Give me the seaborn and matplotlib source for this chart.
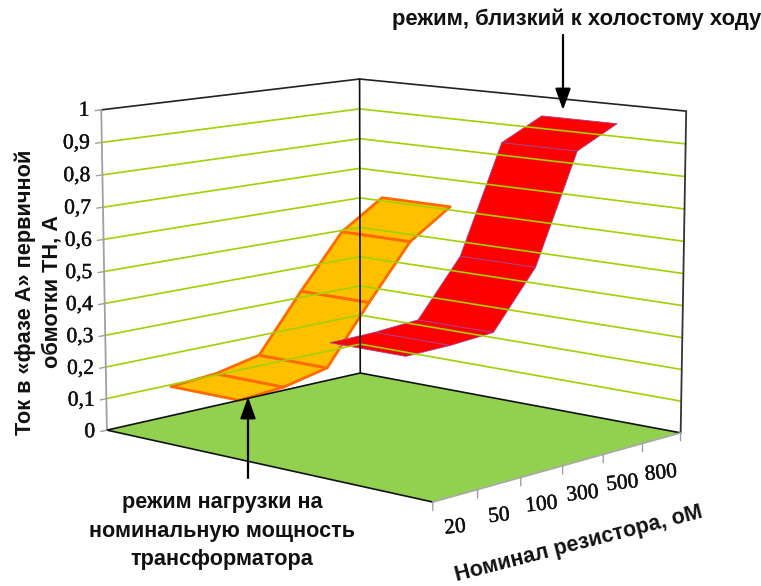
import numpy as np
import pandas as pd
import matplotlib
matplotlib.use("Agg")
import matplotlib.pyplot as plt
import matplotlib.patheffects as pe
import seaborn as sns

# Resistor ratings and the primary phase-A current measured for each one
resistors = ["20", "50", "100", "300", "500", "800"]
current_load = [0.15, 0.16, 0.19, 0.37, 0.54, 0.63]
current_idle = [0.377, 0.38, 0.39, 0.56, 0.89, 0.955]
z_ticks = [0.0, 0.1, 0.2, 0.3, 0.4, 0.5, 0.6, 0.7, 0.8, 0.9, 1.0]
z_labels = ["0", "0,1", "0,2", "0,3", "0,4", "0,5", "0,6", "0,7", "0,8", "0,9", "1"]

# Pinhole camera for the 3-D box: (category axis, series axis, current, 1) -> canvas pixels
CAMERA = np.array([
    [286.273535, 284.40764, -7.599421, 106.911832],
    [-23.011763, 23.776316, -322.372432, 430.117067],
    [0.091397, -0.095903, -0.01911, 1.0],
])


def project(u, v, z):
    h = CAMERA @ np.array([u, v, z, 1.0])
    return h[0] / h[2], h[1] / h[2]


def project_path(points):
    return np.array([project(*p) for p in points])


def draw_path(ax, points, color, lw, key="a"):
    xy = project_path(points)
    frame = pd.DataFrame({"px": xy[:, 0], "py": xy[:, 1], "key": key})
    sns.lineplot(data=frame, x="px", y="py", units="key", estimator=None, sort=False,
                 color=color, lw=lw, ax=ax, legend=False)


def draw_ribbon(ax, values, v_mid, fill, edge, lw):
    half = 0.11
    n = len(values)
    us = [(2 * i + 1) / (2 * n) for i in range(n)]
    for i in range(n - 1):
        quad = project_path([
            (us[i], v_mid - half, values[i]),
            (us[i + 1], v_mid - half, values[i + 1]),
            (us[i + 1], v_mid + half, values[i + 1]),
            (us[i], v_mid + half, values[i]),
        ])
        ax.fill(quad[:, 0], quad[:, 1], facecolor=fill, edgecolor=edge, lw=lw, joinstyle="round")


sns.set_theme(style="white")
plt.rcParams["font.family"] = ["Liberation Sans", "DejaVu Sans"]

fig = plt.figure(figsize=(7.61, 5.86), dpi=100)
ax = fig.add_axes([0, 0, 1, 1])
heavier = [pe.withStroke(linewidth=0.3, foreground="#111111")]

# Floor of the box
floor = project_path([(0, 0, 0), (1, 0, 0), (1, 1, 0), (0, 1, 0)])
ax.fill(floor[:, 0], floor[:, 1], facecolor="#92D050", edgecolor="none")

# Horizontal grid on the two rear walls
for z in z_ticks[1:-1]:
    draw_path(ax, [(0, 0, z), (1, 0, z), (1, 1, z)], "#A2D000", 1.2)

# Box frame
draw_path(ax, [(0, 0, 1), (1, 0, 1), (1, 1, 1)], "#222222", 1.2)
draw_path(ax, [(1, 0, 0), (1, 0, 1)], "#111111", 1.2)
draw_path(ax, [(1, 1, 0), (1, 1, 1)], "#333333", 1.3)
draw_path(ax, [(0, 0, 0), (0, 0, 1)], "#A0A0A0", 1.3)
draw_path(ax, [(0, 0, 0), (1, 0, 0), (1, 1, 0)], "#111111", 1.2)
draw_path(ax, [(0, 0, 0), (0, 1, 0)], "#111111", 1.2)
draw_path(ax, [(0, 1, 0), (1, 1, 0)], "#A8A8A8", 1.2)

# Value ticks on the left edge, category ticks along the front edge
for z, label in zip(z_ticks, z_labels):
    draw_path(ax, [(-0.022, 0, z), (0, 0, z)], "#A0A0A0", 1.0)
    x, y = project(-0.042, 0, z)
    ax.text(x, y, label, ha="right", va="center", family="Liberation Serif",
            fontsize=15.5, color="#111111", path_effects=heavier)
for i in range(len(resistors) + 1):
    u = i / len(resistors)
    draw_path(ax, [(u, 1, 0), (u, 1, -0.025)], "#A0A0A0", 1.0)
for i, label in enumerate(resistors):
    u = (2 * i + 1) / (2 * len(resistors))
    x, y = project(u, 1, -0.093 - 0.022 * u)
    ax.text(x, y, label, ha="center", va="center", family="Liberation Serif",
            fontsize=15.5, rotation=6, color="#111111", path_effects=heavier)

# The two measurement ribbons
draw_ribbon(ax, current_load, 0.25, "#FFC000", "#FF6A00", 2.0)
draw_ribbon(ax, current_idle, 0.75, "#FF0000", "#A8408C", 0.6)

# Axis titles
ax.text(38.5, 292, "Ток в «фазе А» первичной\nобмотки ТН, А", rotation=90, ha="center", va="center",
        fontsize=15.7, fontweight="bold", color="#111111", linespacing=1.3, multialignment="center")
ax.text(579, 544, "Номинал резистора, оМ", rotation=14.5, rotation_mode="anchor", ha="center", va="center",
        fontsize=15.5, fontweight="bold", color="#111111")

# Callouts
ax.text(577, 19, "режим, близкий к холостому ходу", ha="center", va="center",
        fontsize=15.8, fontweight="bold", color="#111111")
ax.text(222, 531, "режим нагрузки на\nноминальную мощность\nтрансформатора", ha="center", va="center",
        fontsize=15.6, fontweight="bold", color="#111111", linespacing=1.45, multialignment="center")
arrow = dict(arrowstyle="-|>,head_length=0.65,head_width=0.235", mutation_scale=20, lw=1.6,
             color="black", shrinkA=0, shrinkB=0)
ax.annotate("", xy=(563, 110), xytext=(563, 35), arrowprops=arrow)
ax.annotate("", xy=(248, 397), xytext=(248, 478), arrowprops=arrow)

ax.set_xlim(0, 761)
ax.set_ylim(586, 0)
ax.set_axis_off()
fig.savefig("out.png", dpi=100, facecolor="white")
